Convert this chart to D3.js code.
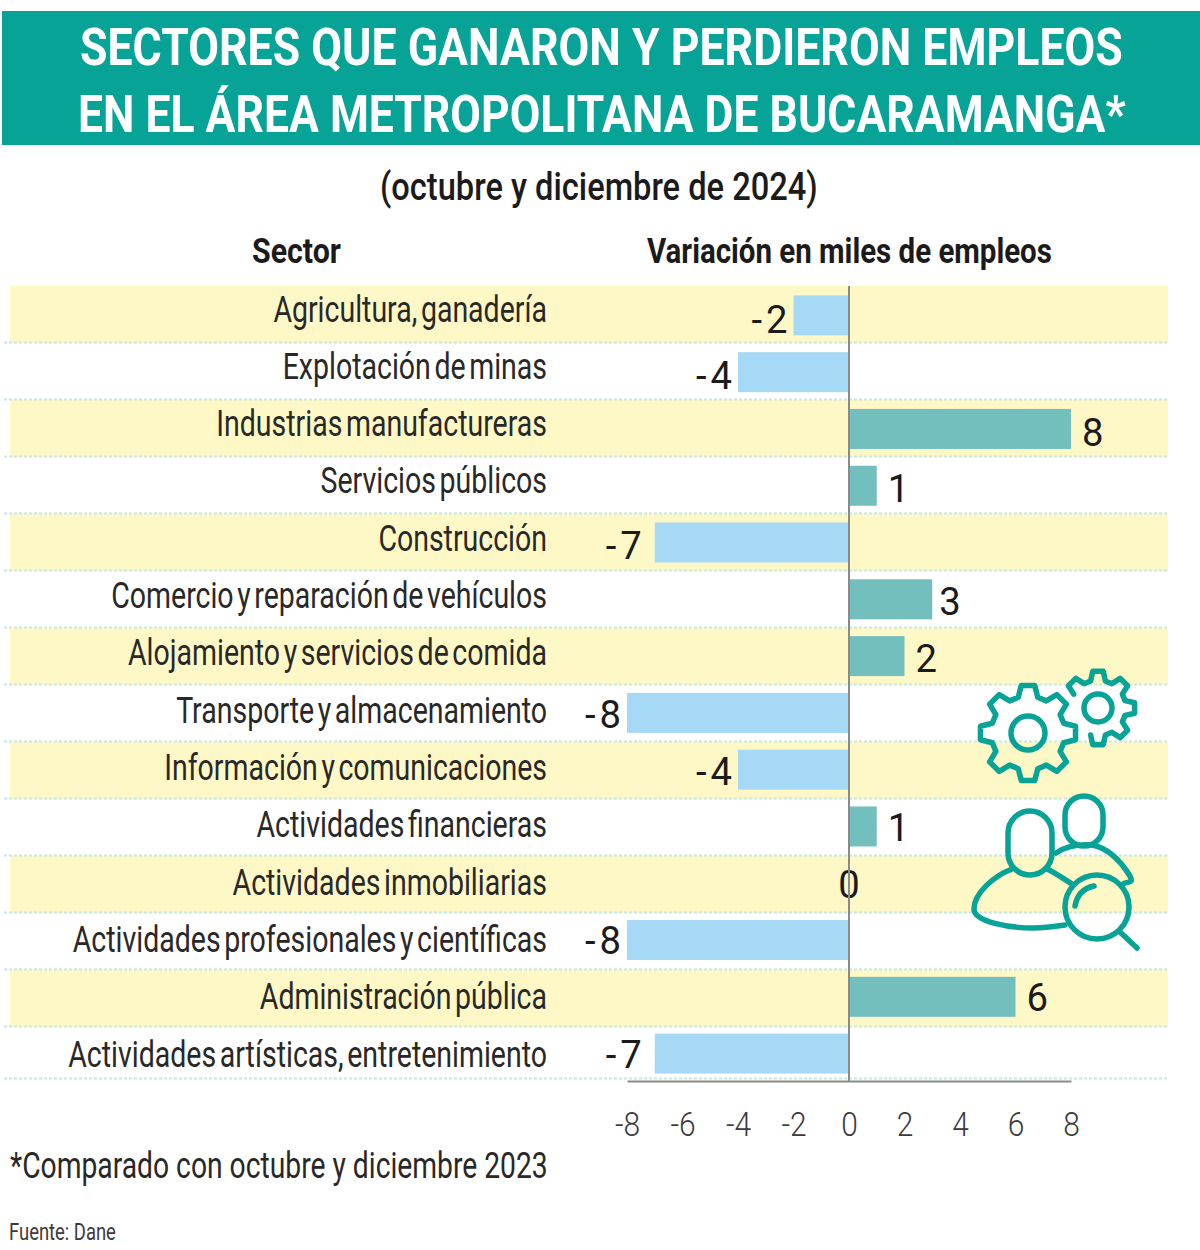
<!DOCTYPE html>
<html lang="es">
<head>
<meta charset="utf-8">
<title>Sectores que ganaron y perdieron empleos</title>
<script src="https://cdn.jsdelivr.net/npm/d3@7/dist/d3.min.js"></script>
<style>
  html, body { margin: 0; padding: 0; background: #fff; }
  svg { display: block; }
  text { font-family: Roboto, "Liberation Sans", sans-serif; }
</style>
</head>
<body>
<svg id="chart" width="1200" height="1250"></svg>
<script>
// Chart content
const sectors = [
  "Agricultura, ganadería",
  "Explotación de minas",
  "Industrias manufactureras",
  "Servicios públicos",
  "Construcción",
  "Comercio y reparación de vehículos",
  "Alojamiento y servicios de comida",
  "Transporte y almacenamiento",
  "Información y comunicaciones",
  "Actividades financieras",
  "Actividades inmobiliarias",
  "Actividades profesionales y científicas",
  "Administración pública",
  "Actividades artísticas, entretenimiento"
];
const variation = [-2, -4, 8, 1, -7, 3, 2, -8, -4, 1, 0, -8, 6, -7];
const tickValues = [-8, -6, -4, -2, 0, 2, 4, 6, 8];
const titleLines = [
  "SECTORES QUE GANARON Y PERDIERON EMPLEOS",
  "EN EL ÁREA METROPOLITANA DE BUCARAMANGA*"
];
const subtitle = "(octubre y diciembre de 2024)";
const sectorHeader = "Sector";
const valueHeader = "Variación en miles de empleos";
const footnote = "*Comparado con octubre y diciembre 2023";
const source = "Fuente: Dane";

const TEAL = "#08a397", YELLOW = "#fdf8c6", RULE = "#c4e8e4",
      GAIN = "#72bfbe", LOSS = "#a6d9f6", AXIS = "#8c8a88", INK = "#1c1a1a";

const svg = d3.select("#chart");
const x = d3.scaleLinear().domain([-8, 8]).range([627, 1071]);
const y = d3.scaleBand().domain(sectors).range([286, 1081]);      // bars
const rowY = d3.scaleBand().domain(sectors).range([286, 1084]);   // stripes and separators
const nameY = d3.scalePoint().domain(sectors).range([321.5, 1066.5]);  // sector name baselines
const valueY = d3.scalePoint().domain(sectors).range([332.5, 1067.5]); // value label baselines
const tableBottom = 1079;

// Writes a line of text squeezed horizontally to a given width, since the
// installed faces have no condensed cut.
function fitted(parent, str, xPos, yPos, width, size, weight, fill, anchor) {
  const t = parent.append("text")
    .attr("font-size", size).attr("font-weight", weight)
    .attr("fill", fill).attr("text-anchor", anchor || "start").text(str);
  const k = width / t.node().getComputedTextLength();
  t.attr("transform", `translate(${xPos},${yPos}) scale(${k},1)`);
  return t;
}

// Header band
svg.append("rect").attr("x", 2).attr("y", 11).attr("width", 1198).attr("height", 134).attr("fill", TEAL);
fitted(svg, titleLines[0], 80, 65, 1043, 52, 700, "#fff");
fitted(svg, titleLines[1], 78, 132, 1048, 52, 700, "#fff");
fitted(svg, subtitle, 380, 200, 438, 38, 500, INK);
fitted(svg, sectorHeader, 252, 263, 89, 35, 700, INK);
fitted(svg, valueHeader, 647, 263, 405, 35, 700, INK);

// Alternating row stripes and dotted separators
const rowBottom = d => Math.min(rowY(d) + rowY.bandwidth(), tableBottom);
const rows = svg.append("g");
rows.selectAll("rect")
  .data(sectors.filter((d, i) => i % 2 === 0))
  .join("rect")
  .attr("x", 10).attr("width", 1158)
  .attr("y", d => rowY(d)).attr("height", d => rowBottom(d) - rowY(d))
  .attr("fill", YELLOW);
rows.selectAll("line")
  .data(sectors)
  .join("line")
  .attr("x1", 4).attr("x2", 1168)
  .attr("y1", d => rowBottom(d) - 0.5).attr("y2", d => rowBottom(d) - 0.5)
  .attr("stroke", RULE).attr("stroke-width", 2).attr("stroke-dasharray", "3 2");

// Bars
const barHeight = 40;
svg.append("g").selectAll("rect")
  .data(sectors)
  .join("rect")
  .attr("x", (d, i) => x(Math.min(0, variation[i])))
  .attr("width", (d, i) => Math.abs(x(variation[i]) - x(0)))
  .attr("y", d => y(d) + y.bandwidth() / 2 - barHeight / 2 + 1)
  .attr("height", barHeight)
  .attr("fill", (d, i) => variation[i] < 0 ? LOSS : GAIN);

// Sector names, right aligned against the chart
svg.append("g").selectAll("text")
  .data(sectors)
  .join("text")
  .attr("text-anchor", "end")
  .attr("font-size", 37)
  .attr("fill", "#2a2827")
  .attr("word-spacing", -4.5)
  .attr("transform", d => `translate(547,${nameY(d)}) scale(0.77,1)`)
  .text(d => d);

// Value labels at the bar ends; the 7s and 3s sit a little further out or in
const labelNudge = v => v === -7 ? -7 : v === 3 ? -4 : 0;
svg.append("g").selectAll("text")
  .data(sectors)
  .join("text")
  .attr("font-size", 39)
  .attr("fill", INK)
  .attr("letter-spacing", (d, i) => variation[i] < 0 ? 4 : 0)
  .attr("text-anchor", (d, i) => variation[i] > 0 ? "start" : variation[i] < 0 ? "end" : "middle")
  .attr("transform", (d, i) => {
    const v = variation[i];
    const px = (v > 0 ? x(v) + 11 : v < 0 ? x(v) - 2 : x(0)) + labelNudge(v);
    return `translate(${px},${valueY(d)}) scale(0.98,1)`;
  })
  .text((d, i) => String(variation[i]));

// Baseline and zero line
const axis = d3.axisBottom(x).tickValues(tickValues).tickSize(0).tickPadding(0).tickFormat(d => String(d));
const axisG = svg.append("g").attr("transform", "translate(0,1081)").call(axis);
axisG.select(".domain").attr("stroke", AXIS).attr("stroke-width", 2);
axisG.selectAll("text")
  .attr("font-size", 34)
  .attr("font-family", "Roboto, sans-serif")
  .attr("font-weight", 300)
  .attr("fill", "#3c3a3a")
  .attr("dy", null)
  .attr("y", null)
  .attr("transform", "translate(0,55) scale(0.88,1)");
svg.append("line")
  .attr("x1", x(0)).attr("x2", x(0)).attr("y1", 286).attr("y2", 1081)
  .attr("stroke", AXIS).attr("stroke-width", 2);

// Footer
fitted(svg, footnote, 10, 1178, 538, 37, 400, "#2a2827");
fitted(svg, source, 9, 1240, 107, 24, 400, "#3c3a3a");

// Decorative icons: two gears and a pair of people under a magnifier
const icons = svg.append("g")
  .attr("fill", "none").attr("stroke", TEAL).attr("stroke-width", 5.5)
  .attr("stroke-linecap", "round").attr("stroke-linejoin", "round");

function gearPath(cx, cy, outer, inner, teeth, phase, skipFrom, skipTo) {
  const pts = [];
  const step = 2 * Math.PI / teeth;
  for (let i = 0; i < teeth; i++) {
    const a = phase + i * step;
    pts.push([inner, a - step * 0.34], [outer, a - step * 0.18], [outer, a + step * 0.18], [inner, a + step * 0.34]);
  }
  const coords = pts.map(([r, a]) => [cx + r * Math.sin(a), cy - r * Math.cos(a)]);
  if (skipFrom === undefined) return d3.line()(coords) + "Z";
  const kept = coords.slice(skipTo).concat(coords.slice(0, skipFrom));
  return d3.line()(kept);
}
icons.append("path").attr("d", gearPath(1028, 733, 48, 37, 8, 0));
icons.append("circle").attr("cx", 1028).attr("cy", 733).attr("r", 17);
icons.append("path").attr("d", gearPath(1098, 708, 37, 28, 8, 0, 20, 28));
icons.append("circle").attr("cx", 1098).attr("cy", 708).attr("r", 14);

icons.append("rect").attr("x", 1008).attr("y", 811).attr("width", 44).attr("height", 64).attr("rx", 22);
icons.append("rect").attr("x", 1065).attr("y", 796).attr("width", 38).attr("height", 50).attr("rx", 19);
icons.append("path").attr("d", "M1012,869 C994,876 974,893 974,909 C974,922 1010,928 1033,928 C1048,928 1058,926 1065,925");
icons.append("path").attr("d", "M1047,869 C1054,872 1064,879 1072,884");
icons.append("path").attr("d", "M1056,853 C1066,846 1078,844 1092,845 C1108,848 1120,860 1130,876 C1134,884 1128,881 1123,884");
icons.append("circle").attr("cx", 1097).attr("cy", 907).attr("r", 32);
icons.append("path").attr("d", "M1075,906 C1077,895 1084,888 1094,886");
icons.append("path").attr("d", "M1120,932 L1137,948");
</script>
</body>
</html>
